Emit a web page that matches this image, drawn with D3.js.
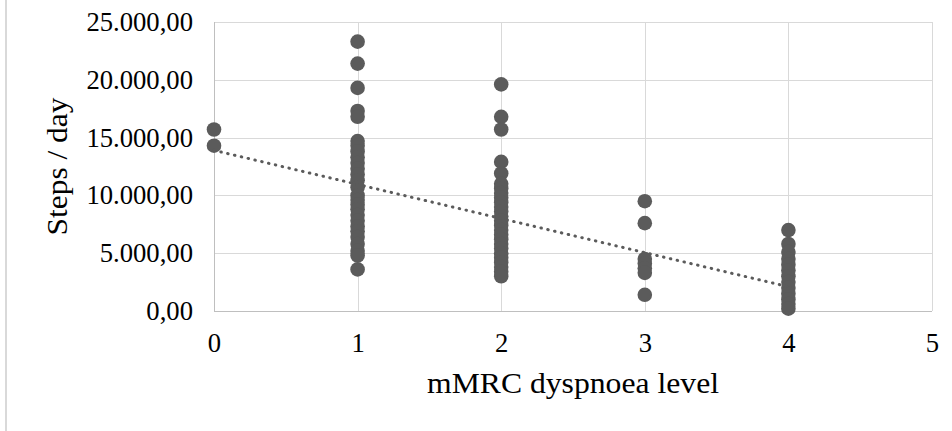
<!DOCTYPE html>
<html>
<head>
<meta charset="utf-8">
<script src="https://cdn.jsdelivr.net/npm/d3@7"></script>
<style>
  html, body { margin: 0; padding: 0; background: #fff; }
  svg { display: block; }
  text { font-family: "Liberation Serif", "Times New Roman", serif; fill: #000; }
</style>
</head>
<body>
<svg id="chart" width="952" height="431"></svg>
<script>
// ---- Data ----
const levels = [0, 1, 2, 3, 4];
const level0Steps = [15700, 14300];
const level1Steps = [23300, 21400, 19300, 17300, 16800, 14700, 14300, 13800, 13300, 12800, 12300, 11800, 11300,
                     10700, 10000, 9600, 9200, 8800, 8300, 7800, 7300, 6900, 6400, 5800, 5200, 4800, 3600];
const level2Steps = [19600, 16800, 15700, 12900, 11900, 11000, 10600, 10200, 9800, 9400, 9000, 8600, 8200,
                     7800, 7400, 7000, 6600, 6200, 5800, 5400, 5000, 4600, 4200, 3800, 3400, 3000];
const level3Steps = [9500, 7600, 4500, 4100, 3700, 3300, 1400];
const level4Steps = [7000, 5800, 5100, 4500, 4000, 3500, 3000, 2500, 2000, 1500, 1000, 600, 200];
const trendLine = [[0, 13900], [4, 2100]];
const xTicks = [0, 1, 2, 3, 4, 5];
const yTicks = [0, 5000, 10000, 15000, 20000, 25000];
const xTitle = "mMRC dyspnoea level";
const yTitle = "Steps / day";

const stepsByLevel = [level0Steps, level1Steps, level2Steps, level3Steps, level4Steps];
const points = [];
levels.forEach((lv, i) => stepsByLevel[i].forEach(v => points.push({x: lv, y: v})));

// ---- Layout ----
const svg = d3.select("#chart");
const plot = {left: 214, right: 932, top: 22, bottom: 311};

const x = d3.scaleLinear().domain([0, 5]).range([plot.left, plot.right]);
const y = d3.scaleLinear().domain([0, 25000]).range([plot.bottom, plot.top]);

const locale = d3.formatLocale({decimal: ",", thousands: ".", grouping: [3], currency: ["", ""]});
const fmt = locale.format(",.2f");

svg.append("rect").attr("width", 952).attr("height", 431).attr("fill", "#fff");

// chart-area border (left edge visible)
svg.append("line").attr("x1", 6).attr("x2", 6).attr("y1", 0).attr("y2", 431)
  .attr("stroke", "#d9d9d9").attr("stroke-width", 2);

// gridlines
const grid = svg.append("g");
grid.selectAll("line.h").data(yTicks).join("line")
  .attr("x1", plot.left).attr("x2", plot.right)
  .attr("y1", d => Math.round(y(d)) + 0.5).attr("y2", d => Math.round(y(d)) + 0.5)
  .attr("stroke", d => d === 0 ? "#bfbfbf" : "#d9d9d9").attr("stroke-width", 1);
grid.selectAll("line.v").data(xTicks).join("line")
  .attr("y1", plot.top).attr("y2", plot.bottom)
  .attr("x1", d => Math.round(x(d)) + 0.5).attr("x2", d => Math.round(x(d)) + 0.5)
  .attr("stroke", d => d === 0 ? "#bfbfbf" : "#d9d9d9").attr("stroke-width", 1);

// axes (labels only, via d3 axis)
const yAxis = svg.append("g").attr("transform", `translate(${plot.left},0)`)
  .call(d3.axisLeft(y).tickValues(yTicks).tickFormat(fmt).tickSize(0).tickPadding(21));
yAxis.select(".domain").remove();
yAxis.selectAll("text").attr("font-size", "26.67px").attr("font-family", '"Liberation Serif", serif').attr("fill", "#000");

const xAxis = svg.append("g").attr("transform", `translate(0,${plot.bottom})`)
  .call(d3.axisBottom(x).tickValues(xTicks).tickFormat(d3.format("d")).tickSize(0).tickPadding(22));
xAxis.select(".domain").remove();
xAxis.selectAll("text").attr("font-size", "26.67px").attr("font-family", '"Liberation Serif", serif').attr("fill", "#000");

// points
svg.append("g").selectAll("circle").data(points).join("circle")
  .attr("cx", d => x(d.x)).attr("cy", d => y(d.y)).attr("r", 7.3)
  .attr("fill", "#5b5b5b");

// trendline
svg.append("line")
  .attr("x1", x(trendLine[0][0])).attr("y1", y(trendLine[0][1]))
  .attr("x2", x(trendLine[1][0])).attr("y2", y(trendLine[1][1]))
  .attr("stroke", "#5b5b5b").attr("stroke-width", 3)
  .attr("stroke-dasharray", "0.5,6.5").attr("stroke-linecap", "round");

// titles
svg.append("text").attr("x", (plot.left + plot.right) / 2).attr("y", 393)
  .attr("text-anchor", "middle").attr("font-size", "29px")
  .attr("textLength", 292).attr("lengthAdjust", "spacingAndGlyphs")
  .text(xTitle);
svg.append("text").attr("transform", `translate(67,${(plot.top + plot.bottom) / 2}) rotate(-90)`)
  .attr("text-anchor", "middle").attr("font-size", "29px")
  .attr("textLength", 138).attr("lengthAdjust", "spacingAndGlyphs")
  .text(yTitle);
</script>
</body>
</html>
